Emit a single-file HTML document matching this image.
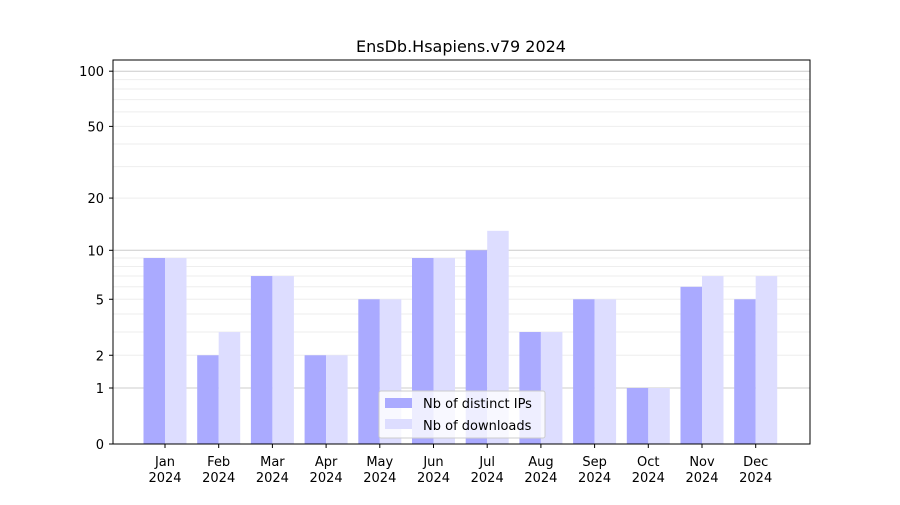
<!DOCTYPE html>
<html><head><meta charset="utf-8"><style>
body{margin:0;background:#fff;font-family:"Liberation Sans","DejaVu Sans",sans-serif}
svg text{font-family:"DejaVu Sans","Liberation Sans",sans-serif;font-size:13px;fill:#000}
</style></head><body>
<svg id="chart" width="900" height="500" xmlns="http://www.w3.org/2000/svg">
<rect width="900" height="500" fill="#fff"/>
<text x="461" y="52" text-anchor="middle" style="font-size:16px">EnsDb.Hsapiens.v79 2024</text>
<g id="grid"></g><g id="bars"></g><g id="axes"></g>
<rect x="113" y="60" width="697" height="384" fill="none" stroke="#000" stroke-width="1"/>
<g>
<rect x="379" y="391" width="166" height="47" fill="#fff" fill-opacity="0.8" stroke="#ccc" rx="2"/>
<rect x="385" y="398" width="27" height="10" fill="#aaaaff"/>
<text x="423" y="408">Nb of distinct IPs</text>
<rect x="385" y="419" width="27" height="10" fill="#ddddff"/>
<text x="423" y="430">Nb of downloads</text>
</g>
</svg>
<script>
const months=["Jan","Feb","Mar","Apr","May","Jun","Jul","Aug","Sep","Oct","Nov","Dec"];
const ips=[9,2,7,2,5,9,10,3,5,1,6,5];
const downloads=[9,3,7,2,5,9,13,3,5,1,7,7];
const yTicks=[0,1,2,5,10,20,50,100];
const NS="http://www.w3.org/2000/svg";
function y(v){return 444-186*Math.log10(1+v);}
function xc(i){return 165+i*53.7;}
function mk(tag,attrs,parent){const e=document.createElementNS(NS,tag);for(const k in attrs)e.setAttribute(k,attrs[k]);parent.appendChild(e);return e;}
const grid=document.getElementById('grid'),bars=document.getElementById('bars'),axes=document.getElementById('axes');
// grid
const minor=[];for(let d=1;d<=100;d*=10)for(let m=1;m<=9;m++)if(d*m<=110)minor.push(d*m);
minor.forEach(v=>{const major=(v===1||v===10||v===100);
const l=mk('line',{x1:113,x2:810,y1:y(v),y2:y(v),stroke:major?'#cccccc':'#eeeeee','stroke-width':1},grid);

});
// bars
months.forEach((m,i)=>{
const b1=mk('rect',{x:xc(i)-21.5,y:y(ips[i]),width:21.5,height:444-y(ips[i]),fill:'#aaaaff'},bars);


const b2=mk('rect',{x:xc(i),y:y(downloads[i]),width:21.5,height:444-y(downloads[i]),fill:'#ddddff'},bars);


mk('line',{x1:xc(i),x2:xc(i),y1:444,y2:448,stroke:'#000'},axes);
const t=mk('text',{x:xc(i),y:466,'text-anchor':'middle'},axes);t.textContent=m;


const t2=mk('text',{x:xc(i),y:482,'text-anchor':'middle'},axes);t2.textContent='2024';


});
yTicks.forEach(v=>{
mk('line',{x1:109,x2:113,y1:y(v),y2:y(v),stroke:'#000'},axes);
const t=mk('text',{x:104,y:y(v)+5,'text-anchor':'end'},axes);t.textContent=v;


});
</script>
</body></html>
